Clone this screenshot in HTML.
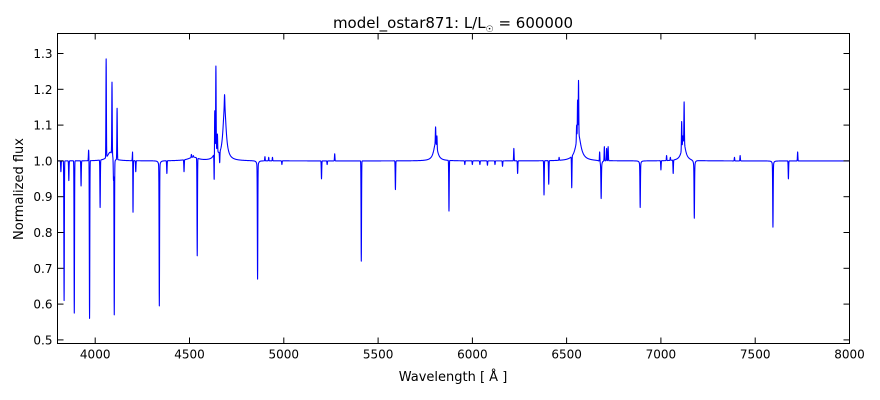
<!DOCTYPE html>
<html><head><meta charset="utf-8"><style>
body{margin:0;background:#fff;}
svg{display:block;font-family:"DejaVu Sans","Liberation Sans",sans-serif;}
</style></head><body>
<svg id="s" width="880" height="400" xmlns="http://www.w3.org/2000/svg">
<rect width="880" height="400" fill="#fff"/>
<path id="spec" fill="none" stroke="#0000ff" stroke-width="1.1" stroke-linejoin="round"/>
<rect x="57.5" y="33.5" width="792" height="310" fill="none" stroke="#000" stroke-width="1"/>
<g id="ticks" stroke="#000" stroke-width="1"></g>
<g id="labels" font-size="12" fill="#000"></g>
<text x="453" y="28" font-size="15" text-anchor="middle">model_ostar871: L/L<tspan font-size="9" dy="4">☉</tspan><tspan dy="-4"> = 600000</tspan></text>
<text x="453" y="381" font-size="13" text-anchor="middle">Wavelength [ Å ]</text>
<text transform="translate(23,189) rotate(-90)" font-size="13" text-anchor="middle">Normalized flux</text>
</svg>
<script>
var X0=3800,X1=8000,Y0=0.49,Y1=1.356,L=57.5,R=849.5,T=33.5,B=343.5;
function px(w){return L+(w-X0)/(X1-X0)*(R-L);}
function py(f){return B-(f-Y0)/(Y1-Y0)*(B-T);}
var narrow=[[3835,0.61],[3889,0.575],[3970,0.56],[4026,0.87],[4101,0.57],[4200,0.82],[4340,0.595],[4541,0.735],[4861,0.67],[5411,0.72],[5876,0.86],[6683,0.895],[6890,0.87],[7177,0.84],[7594,0.815],[7676,0.95],[5592,0.92],[5200,0.95],[6380,0.905],[6405,0.935],[6527,0.925],[3860,0.945],[3925,0.93],[4215,0.97],[4380,0.965],[4471,0.97],[4631,0.94],[4097,0.945],[3818,0.97],[4660,0.995],[7000,0.975],[7065,0.965],[5230,0.99],[5960,0.99],[6000,0.99],[6040,0.99],[6080,0.988],[6120,0.99],[6160,0.985],[6240,0.965],[4990,0.99],
[3965,1.03],[4058,1.285],[4089,1.22],[4116,1.147],[4198,1.025],[4634,1.14],[4640,1.265],[4648,1.075],[4686,1.185],[5805,1.095],[5812,1.07],[6558,1.17],[6563,1.225],[6553,1.1],[7110,1.11],[7123,1.165],[7116,1.07],[6675,1.025],[6700,1.04],[6712,1.035],[6720,1.04],[7725,1.025],[5270,1.02],[6220,1.035],[4510,1.018],[4520,1.015],[4900,1.012],[4920,1.01],[4940,1.01],[7030,1.015],[7050,1.01],[7390,1.01],[7420,1.015],[6460,1.01]];
var broad=[[4686,0.15,10],[4640,0.03,10],[5805,0.05,12],[6562,0.075,16],[7120,0.055,12],[4080,0.025,18],[4520,0.01,30],[4861,-0.02,4],[4340,-0.02,4],[4101,-0.02,4],[6683,-0.03,3],[6890,-0.02,3],[7177,-0.03,3],[7594,-0.02,3]];
var d="";
for(var w=X0;w<=X1;w+=0.5){
 var f=1;
 for(var i=0;i<broad.length;i++){var b=broad[i],x=(w-b[0])/b[2];f+=b[1]/(1+x*x);}
 for(var i=0;i<narrow.length;i++){var n=narrow[i],x=(w-n[0])/1.2;if(Math.abs(x)<5){var g=Math.exp(-x*x/2);
   if((n[1]>1&&n[1]>f)||(n[1]<1&&n[1]<f)) f=f*(1-g)+n[1]*g;}}
 d+=(d?"L":"M")+px(w).toFixed(2)+","+py(f).toFixed(2);
}
document.getElementById("spec").setAttribute("d",d);
var t="",lb="";
for(var w=4000;w<=8000;w+=500){var x=px(w).toFixed(1);t+='<line x1="'+x+'" y1="'+B+'" x2="'+x+'" y2="'+(B-6)+'"/><line x1="'+x+'" y1="'+T+'" x2="'+x+'" y2="'+(T+6)+'"/>';lb+='<text x="'+x+'" y="'+(B+15)+'" text-anchor="middle">'+w+'</text>';}
for(var k=5;k<=13;k++){var v=k/10,y=py(v).toFixed(1);t+='<line x1="'+L+'" y1="'+y+'" x2="'+(L+6)+'" y2="'+y+'"/><line x1="'+R+'" y1="'+y+'" x2="'+(R-6)+'" y2="'+y+'"/>';lb+='<text x="'+(L-5)+'" y="'+(parseFloat(y)+4.5)+'" text-anchor="end">'+v.toFixed(1)+'</text>';}
document.getElementById("ticks").innerHTML=t;
document.getElementById("labels").innerHTML=lb;
</script>
</body></html>
